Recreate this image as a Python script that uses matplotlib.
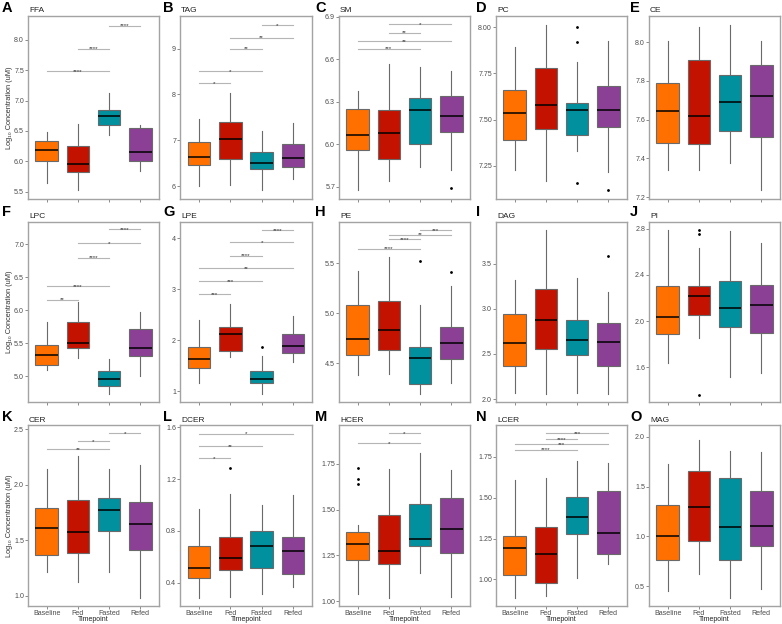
import numpy as np
import matplotlib.pyplot as plt

plt.rcParams['font.family'] = ['Liberation Sans', 'DejaVu Sans']

groups = ["Baseline", "Fed", "Fasted", "Refed"]
colors = ["#FF7000", "#C41200", "#00909E", "#8B4096"]

# per lipid class: [whislo, q1, median, q3, whishi] for each timepoint
ffa = [[5.65, 6.01, 6.18, 6.33, 6.49], [5.52, 5.83, 5.95, 6.25, 6.61],
       [6.43, 6.59, 6.74, 6.85, 7.12], [5.84, 6.01, 6.15, 6.54, 6.59]]
tag = [[6.00, 6.46, 6.64, 6.96, 7.46], [6.03, 6.60, 7.02, 7.40, 8.04],
       [5.91, 6.37, 6.50, 6.75, 7.21], [6.16, 6.41, 6.62, 6.93, 7.38]]
sm = [[5.68, 5.96, 6.07, 6.25, 6.38], [5.74, 5.90, 6.08, 6.24, 6.57],
      [5.84, 6.00, 6.24, 6.33, 6.55], [5.82, 6.09, 6.20, 6.34, 6.52]]
pc = [[7.225, 7.39, 7.535, 7.66, 7.89], [7.17, 7.45, 7.58, 7.78, 8.01],
      [7.33, 7.415, 7.55, 7.59, 7.81], [7.215, 7.46, 7.55, 7.68, 7.925]]
ce = [[7.34, 7.477, 7.647, 7.79, 8.005], [7.34, 7.475, 7.62, 7.91, 8.08],
      [7.377, 7.54, 7.69, 7.83, 8.09], [7.235, 7.51, 7.72, 7.88, 8.005]]
lpc = [[5.09, 5.17, 5.32, 5.48, 5.82], [5.27, 5.43, 5.50, 5.82, 6.12],
       [4.73, 4.86, 4.96, 5.08, 5.26], [5.00, 5.31, 5.43, 5.72, 5.98]]
lpe = [[1.16, 1.45, 1.64, 1.86, 2.39], [1.67, 1.79, 2.13, 2.27, 2.71],
       [0.95, 1.17, 1.24, 1.39, 1.70], [1.57, 1.76, 1.88, 2.13, 2.48]]
pe = [[4.39, 4.58, 4.74, 5.08, 5.42], [4.40, 4.63, 4.83, 5.12, 5.56],
      [4.195, 4.30, 4.55, 4.66, 5.08], [4.31, 4.54, 4.70, 4.86, 5.27]]
dag = [[2.07, 2.37, 2.625, 2.94, 3.32], [2.055, 2.55, 2.88, 3.22, 3.87],
       [2.07, 2.49, 2.65, 2.88, 3.34], [2.055, 2.37, 2.63, 2.84, 3.19]]
pi = [[1.64, 1.89, 2.04, 2.30, 2.79], [1.85, 2.05, 2.22, 2.30, 2.63],
      [1.52, 1.95, 2.115, 2.35, 2.78], [1.55, 1.90, 2.14, 2.31, 2.68]]
cer = [[1.21, 1.37, 1.61, 1.79, 2.14], [1.12, 1.38, 1.57, 1.86, 2.26],
       [1.215, 1.585, 1.77, 1.88, 2.14], [0.98, 1.41, 1.645, 1.84, 2.18]]
dcer = [[0.285, 0.436, 0.515, 0.68, 0.97], [0.29, 0.50, 0.592, 0.754, 1.087],
        [0.315, 0.515, 0.685, 0.80, 1.00], [0.367, 0.467, 0.646, 0.754, 1.08]]
hcer = [[1.04, 1.225, 1.312, 1.378, 1.416], [1.018, 1.20, 1.274, 1.47, 1.723],
        [1.154, 1.30, 1.341, 1.528, 1.808], [1.022, 1.265, 1.394, 1.563, 1.714]]
lcer = [[0.888, 1.024, 1.193, 1.268, 1.61], [0.898, 0.978, 1.157, 1.323, 1.62],
        [1.01, 1.278, 1.38, 1.504, 1.726], [1.095, 1.156, 1.285, 1.54, 1.715]]
mag = [[0.45, 0.764, 1.00, 1.315, 1.726], [0.624, 0.954, 1.30, 1.656, 1.97],
       [0.383, 0.764, 1.098, 1.583, 1.863], [0.473, 0.904, 1.101, 1.452, 1.846]]

# outliers per timepoint
sm_out = [[], [], [], [5.69]]
pc_out = [[], [], [8.0, 7.92, 7.155], [7.116]]
lpe_out = [[], [], [1.875], []]
pe_out = [[], [], [5.52], [5.41]]
dag_out = [[], [], [], [3.58]]
pi_out = [[], [2.79, 2.75, 1.36], [], []]
dcer_out = [[], [1.285], [], []]
hcer_out = [[1.725, 1.666, 1.641], [], [], []]
no_out = [[], [], [], []]

# significance brackets: (group a, group b, height, label)
ffa_sig = [(0, 2, 7.48, "****"), (1, 2, 7.85, "****"), (2, 3, 8.23, "****")]
tag_sig = [(0, 1, 8.25, "*"), (0, 2, 8.51, "*"), (1, 2, 9.0, "**"),
           (1, 3, 9.24, "**"), (2, 3, 9.51, "*")]
sm_sig = [(0, 2, 6.675, "***"), (0, 3, 6.73, "**"), (1, 2, 6.79, "**"), (1, 3, 6.85, "*")]
lpc_sig = [(0, 1, 6.16, "**"), (0, 2, 6.37, "****"), (1, 2, 6.80, "****"),
           (1, 3, 7.02, "*"), (2, 3, 7.23, "****")]
lpe_sig = [(0, 1, 2.91, "***"), (0, 2, 3.16, "***"), (0, 3, 3.41, "**"),
           (1, 2, 3.66, "****"), (1, 3, 3.92, "*"), (2, 3, 4.16, "****")]
pe_sig = [(0, 2, 5.645, "****"), (1, 2, 5.74, "****"), (1, 3, 5.785, "**"), (2, 3, 5.83, "***")]
cer_sig = [(0, 2, 2.32, "**"), (1, 2, 2.39, "*"), (2, 3, 2.46, "*")]
dcer_sig = [(0, 1, 1.36, "*"), (0, 2, 1.456, "**"), (0, 3, 1.551, "*")]
hcer_sig = [(0, 2, 1.863, "*"), (1, 2, 1.917, "*")]
lcer_sig = [(0, 2, 1.793, "****"), (0, 3, 1.827, "***"), (1, 2, 1.86, "****"), (1, 3, 1.894, "***")]
mag_sig = [(0, 1, 2.037, "**")]

ffa_ticks = ["5.5", "6.0", "6.5", "7.0", "7.5", "8.0"]
tag_ticks = ["6", "7", "8", "9"]
sm_ticks = ["5.7", "6.0", "6.3", "6.6", "6.9"]
pc_ticks = ["7.25", "7.50", "7.75", "8.00"]
ce_ticks = ["7.2", "7.4", "7.6", "7.8", "8.0"]
lpc_ticks = ["5.0", "5.5", "6.0", "6.5", "7.0"]
lpe_ticks = ["1", "2", "3", "4"]
pe_ticks = ["4.5", "5.0", "5.5"]
dag_ticks = ["2.0", "2.5", "3.0", "3.5"]
pi_ticks = ["1.6", "2.0", "2.4", "2.8"]
cer_ticks = ["1.0", "1.5", "2.0", "2.5"]
dcer_ticks = ["0.4", "0.8", "1.2", "1.6"]
hcer_ticks = ["1.00", "1.25", "1.50", "1.75"]
lcer_ticks = ["1.00", "1.25", "1.50", "1.75"]
mag_ticks = ["0.5", "1.0", "1.5", "2.0"]

panels = [
    ("A", "FFA", ffa, no_out, ffa_sig, ffa_ticks, (5.38, 8.39)),
    ("B", "TAG", tag, no_out, tag_sig, tag_ticks, (5.72, 9.71)),
    ("C", "SM", sm, sm_out, sm_sig, sm_ticks, (5.615, 6.907)),
    ("D", "PC", pc, pc_out, [], pc_ticks, (7.07, 8.06)),
    ("E", "CE", ce, no_out, [], ce_ticks, (7.19, 8.135)),
    ("F", "LPC", lpc, no_out, lpc_sig, lpc_ticks, (4.61, 7.34)),
    ("G", "LPE", lpe, lpe_out, lpe_sig, lpe_ticks, (0.79, 4.32)),
    ("H", "PE", pe, pe_out, pe_sig, pe_ticks, (4.116, 5.91)),
    ("I", "DAG", dag, dag_out, [], dag_ticks, (1.967, 3.96)),
    ("J", "PI", pi, pi_out, [], pi_ticks, (1.30, 2.858)),
    ("K", "CER", cer, no_out, cer_sig, cer_ticks, (0.907, 2.536)),
    ("L", "DCER", dcer, dcer_out, dcer_sig, dcer_ticks, (0.22, 1.618)),
    ("M", "HCER", hcer, hcer_out, hcer_sig, hcer_ticks, (0.973, 1.962)),
    ("N", "LCER", lcer, no_out, lcer_sig, lcer_ticks, (0.837, 1.945)),
    ("O", "MAG", mag, no_out, [], mag_ticks, (0.30, 2.12)),
]

W, H = 782, 624
fig = plt.figure(figsize=(W / 100, H / 100), dpi=100)

col_left = [28, 180, 339, 496, 649]
col_right = [159, 312, 470, 627, 780]
row_top = [16, 222, 425]
row_bot = [199, 402, 606]
letter_x = [2, 163, 315, 476, 630]
letter_y = [8, 212, 417]

frame_col = "#a3a3a3"
text_col = "#4d4d4d"

for k, (letter, name, stats, outs, sigs, ticks, ylim) in enumerate(panels):
    r, c = divmod(k, 5)
    l, rr, t, b = col_left[c], col_right[c], row_top[r], row_bot[r]
    ax = fig.add_axes([l / W, 1 - b / H, (rr - l) / W, (b - t) / H])

    bstats = []
    for g, s in enumerate(stats):
        bstats.append(dict(whislo=s[0], q1=s[1], med=s[2], q3=s[3], whishi=s[4],
                           fliers=outs[g]))
    bp = ax.bxp(bstats, positions=[1, 2, 3, 4], widths=0.72, patch_artist=True,
                showcaps=False,
                boxprops=dict(edgecolor="#6a6a6a", linewidth=0.8),
                whiskerprops=dict(color="#6a6a6a", linewidth=0.8),
                medianprops=dict(color="black", linewidth=1.1),
                flierprops=dict(marker="o", markersize=1.0, markerfacecolor="black",
                                markeredgecolor="black", linestyle="none"))
    for patch, col in zip(bp["boxes"], colors):
        patch.set_facecolor(col)

    for a, bgrp, y, lab in sigs:
        ax.plot([a + 1, bgrp + 1], [y, y], color="#b5b5b5", linewidth=0.8)
        ax.annotate(lab, ((a + bgrp) / 2 + 1, y), xytext=(0, -1.2),
                    textcoords="offset points", ha="center", va="baseline",
                    fontsize=4.5, color="#333333")

    ax.set_xlim(0.4, 4.6)
    ax.set_ylim(*ylim)
    ax.set_yticks([float(v) for v in ticks])
    ax.set_yticklabels(ticks)
    ax.set_xticks([1, 2, 3, 4])
    if r == 2:
        ax.set_xticklabels(groups)
        fig.text(((l + rr) / 2) / W, 1 - 619.5 / H, "Timepoint", fontsize=5,
                 color="#222222", ha="center", va="center")
    else:
        ax.set_xticklabels([])
    ax.tick_params(axis="both", length=2, width=0.6, color="#777777",
                   labelsize=5.1, labelcolor=text_col, pad=0.8)
    for sp in ax.spines.values():
        sp.set_color(frame_col)
        sp.set_linewidth(1.0)

    fig.text(letter_x[c] / W, 1 - letter_y[r] / H, letter, fontsize=10.5,
             fontweight="bold", ha="left", va="center")
    fig.text((l + 1) / W, 1 - (t - 5) / H, name, fontsize=6, color="#222222",
             ha="left", va="center")
    if c == 0:
        fig.text(10 / W, 1 - ((t + b) / 2) / H, "Log₁₀ Concentration (uM)",
                 rotation=90, fontsize=5.3, color="#333333", ha="center", va="center")

fig.savefig("out.png", dpi=100)
